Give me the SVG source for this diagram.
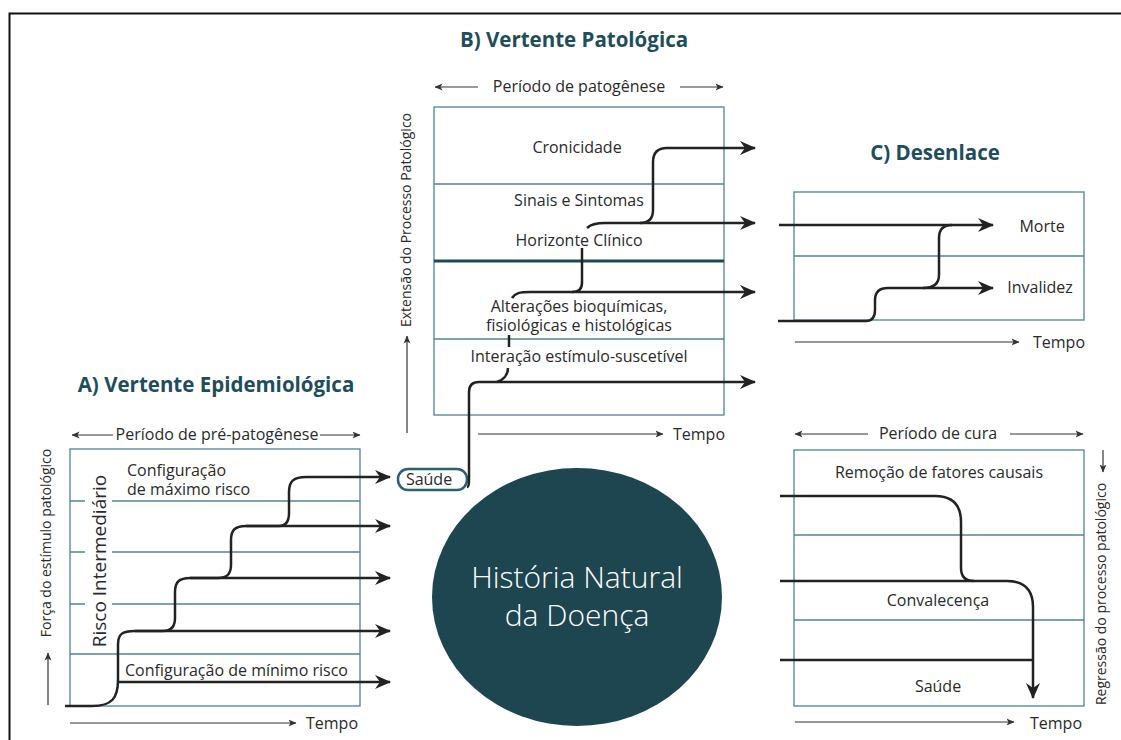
<svg xmlns="http://www.w3.org/2000/svg" width="1121" height="740" viewBox="0 0 1121 740">
<defs>
<marker id="ah" viewBox="0 0 16 16" refX="15" refY="8" markerWidth="16" markerHeight="16" markerUnits="userSpaceOnUse" orient="auto">
<path d="M0,1 L16,8 L0,15 L5,8 Z" fill="#222"/>
</marker>
<marker id="sa" viewBox="0 0 8 8" refX="7.5" refY="4" markerWidth="8" markerHeight="8" markerUnits="userSpaceOnUse" orient="auto">
<path d="M0,0.5 L8,4 L0,7.5 L2,4 Z" fill="#333"/>
</marker>
<style>
text{font-family:"Open Sans","Noto Sans","Liberation Sans",sans-serif;fill:#2a2a2a;font-size:16px}
.t{font-weight:bold;fill:#1e4d5c;font-size:20.5px}
.m{text-anchor:middle}
.r{font-size:14px}
.box{fill:none;stroke:#4f8591;stroke-width:1.3}
.ax{fill:none;stroke:#333;stroke-width:1.2}
.ln{fill:none;stroke:#222;stroke-width:2.5}
.ar{marker-end:url(#ah)}
.sm{marker-end:url(#sa)}
</style>
</defs>
<path d="M9.5,740 V13.5 H1121" fill="none" stroke="#111" stroke-width="2"/>

<g id="panelA">
<text class="t m" x="216" y="392">A) Vertente Epidemiológica</text>
<text class="m" x="217" y="440">Período de pré-patogênese</text>
<line class="ax sm" x1="113" y1="435" x2="72" y2="435"/>
<line class="ax sm" x1="320" y1="435" x2="360" y2="435"/>
<rect class="box" x="70" y="449" width="290" height="257"/>
<path class="box" d="M70,501 H85 M112,501 H360 M70,552 H85 M112,552 H360 M70,604 H85 M112,604 H360 M70,654 H360"/>
<text x="127" y="476">Configuração</text>
<text x="127" y="495">de máximo risco</text>
<text x="125" y="676">Configuração de mínimo risco</text>
<text class="m" transform="rotate(-90 106 561)" x="106" y="561" style="font-size:19px">Risco Intermediário</text>
<text class="m r" transform="rotate(-90 51 543)" x="51" y="543">Força do estímulo patológico</text>
<line class="ax sm" x1="48" y1="705" x2="48" y2="653"/>
<line class="ax sm" x1="70" y1="723" x2="296" y2="723"/>
<text x="306" y="729">Tempo</text>
</g>

<g id="panelB">
<text class="t m" x="574" y="47">B) Vertente Patológica</text>
<text class="m" x="579" y="92">Período de patogênese</text>
<line class="ax sm" x1="478" y1="87" x2="435" y2="87"/>
<line class="ax sm" x1="680" y1="87" x2="723" y2="87"/>
<rect class="box" x="434" y="107" width="290" height="308"/>
<path class="box" d="M434,184 H724 M434,339 H724"/>
<line x1="434" y1="261" x2="724" y2="261" stroke="#1d4a55" stroke-width="3"/>
<text class="m" x="577" y="153">Cronicidade</text>
<text class="m" x="579" y="206">Sinais e Sintomas</text>
<text class="m" x="579" y="246">Horizonte Clínico</text>
<text class="m" x="579" y="312">Alterações bioquímicas,</text>
<text class="m" x="579" y="331">fisiológicas e histológicas</text>
<text class="m" x="579" y="362">Interação estímulo-suscetível</text>
<text class="m r" transform="rotate(-90 411 220)" x="411" y="220">Extensão do Processo Patológico</text>
<line class="ax sm" x1="407" y1="433" x2="407" y2="336"/>
<line class="ax sm" x1="478" y1="434" x2="663" y2="434"/>
<text x="673" y="440">Tempo</text>
</g>

<g id="panelC">
<text class="t m" x="935" y="160">C) Desenlace</text>
<rect class="box" x="794" y="192" width="290" height="128"/>
<path class="box" d="M794,256 H1084"/>
<text class="m" x="1042" y="232">Morte</text>
<text class="m" x="1040" y="293">Invalidez</text>
<line class="ax sm" x1="795" y1="342" x2="1019" y2="342"/>
<text x="1033" y="348">Tempo</text>
</g>

<g id="panelD">
<text class="m" x="938" y="439">Período de cura</text>
<line class="ax sm" x1="868" y1="434" x2="795" y2="434"/>
<line class="ax sm" x1="1010" y1="434" x2="1083" y2="434"/>
<rect class="box" x="794" y="450" width="290" height="256"/>
<path class="box" d="M794,535 H1084 M794,620 H1084"/>
<text class="m" x="939" y="478">Remoção de fatores causais</text>
<text class="m" x="938" y="606">Convalecença</text>
<text class="m" x="938" y="692">Saúde</text>
<text class="m r" transform="rotate(-90 1106 594)" x="1106" y="594">Regressão do processo patológico</text>
<line class="ax sm" x1="1103" y1="450" x2="1103" y2="472"/>
<line class="ax sm" x1="795" y1="722" x2="1014" y2="722"/>
<text x="1030" y="729">Tempo</text>
</g>

<g id="saude">
<rect x="398" y="469" width="69" height="21" rx="10" fill="#fff" stroke="#2b6270" stroke-width="2.5"/>
<text class="m" x="429" y="485">Saúde</text>
</g>

<g id="historia">
<ellipse cx="577" cy="597" rx="145" ry="129" fill="#1d4650"/>
<text class="m" x="577" y="588" style="fill:#fff;font-size:30px;font-weight:300">História Natural</text>
<text class="m" x="577" y="626" style="fill:#fff;font-size:30px;font-weight:300">da Doença</text>
</g>

<g id="connectors">
<path class="ln ar" d="M65,706 H92 C112,706 118,698 118,680 V645 C118,634 122,631 135,631 H163 C171,631 175,627 175,618 V592 C175,582 179,578 190,578 H218 C227,578 231,574 231,565 V540 C231,530 235,526 246,526 H279 C286,526 289,522 289,513 V492 C289,481 294,477 306,477 H390"/>
<path class="ln ar" d="M118,682 H390"/>
<path class="ln ar" d="M135,631 H390"/>
<path class="ln ar" d="M190,578 H390"/>
<path class="ln ar" d="M246,526 H390"/>
<path class="ln ar" d="M467,487 Q469,487 469,480 V392 Q469,382 479,382 H755"/>
<path class="ln" d="M497,382 C503,380 508,375 508,368"/>
<path class="ln" d="M509,335 V347"/>
<path class="ln ar" d="M512,298 C515,293 520,292 530,292 H755"/>
<path class="ln" d="M582,248 V283 Q582,292 572,292"/>
<path class="ln ar" d="M587,228 C591,224 596,223 605,223 H755"/>
<path class="ln ar" d="M640,223 Q653,223 653,210 V162 Q653,148 667,148 H755"/>
<path class="ln ar" d="M779,225 H993"/>
<path class="ln ar" d="M778,321 H866 Q875,321 875,310 V300 Q875,288 888,288 H993"/>
<path class="ln" d="M923,288 Q939,288 939,275 V238 Q939,225 952,225"/>
<path class="ln" d="M780,496 H935 Q961,496 961,522 V568 Q961,581 974,581"/>
<path class="ln ar" d="M780,581 H1007 Q1033,581 1033,607 V698"/>
<path class="ln" d="M780,660 H1033"/>
</g>
</svg>
